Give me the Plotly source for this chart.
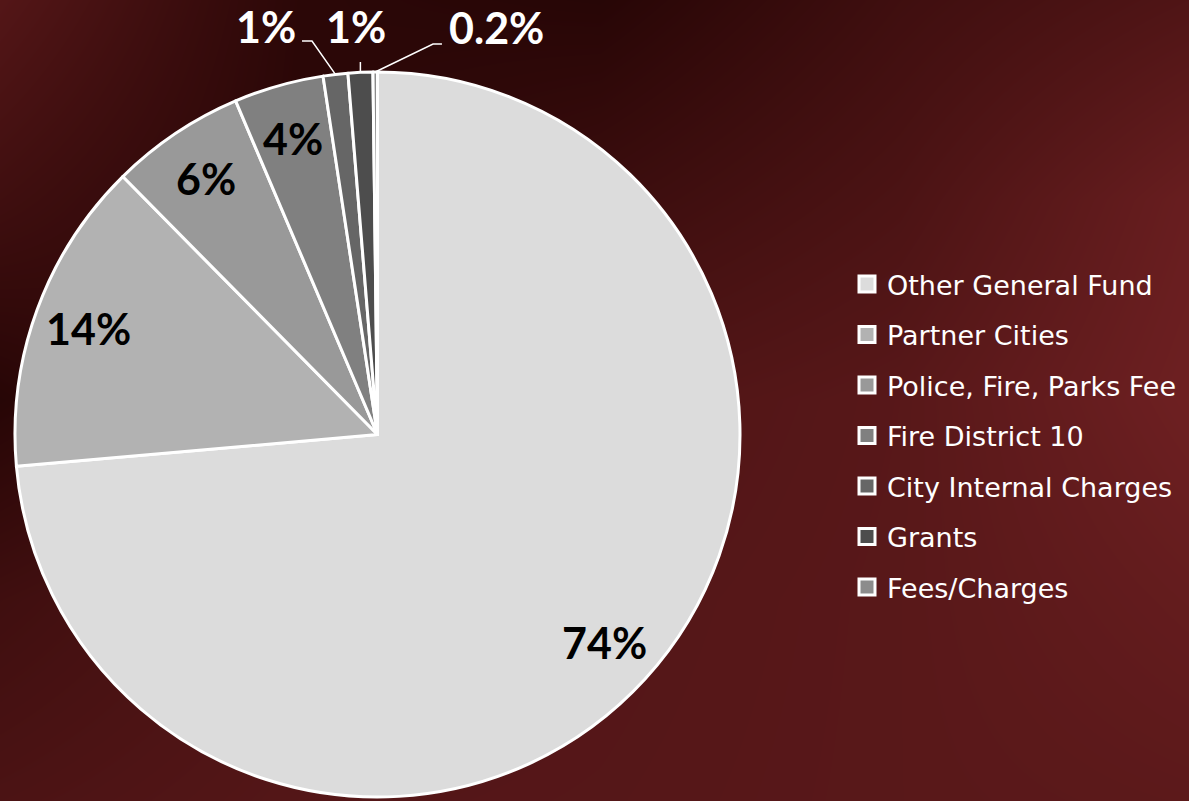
import math
import plotly.graph_objects as go

# ---- data ----
categories = ["Other General Fund", "Partner Cities", "Police, Fire, Parks Fee",
              "Fire District 10", "City Internal Charges", "Grants", "Fees/Charges"]
values = [73.6, 14.0, 6.0, 4.0, 1.1, 1.1, 0.2]
pct_labels = ["74%", "14%", "6%", "4%", "1%", "1%", "0.2%"]
colors = ["#dcdcdc", "#b2b2b2", "#999999", "#808080", "#666666", "#4d4d4d", "#8c8c8c"]

# background gradient brightness grid (decorative)
bg_x = [0, 300, 600, 900, 1189]
bg_y = [0, 200, 400, 600, 801]
bg_z = [
    [0.60, 0.10, 0.05, 0.35, 0.55],
    [0.35, 0.08, 0.30, 0.50, 0.85],
    [0.05, 0.35, 0.55, 0.65, 0.92],
    [0.35, 0.55, 0.60, 0.66, 0.80],
    [0.50, 0.60, 0.62, 0.66, 0.70],
]

W, H = 1189, 801
CX, CY, R = 377.5, 434.5, 362.5

fig = go.Figure()

fig.add_trace(go.Heatmap(
    x=bg_x, y=bg_y, z=bg_z, zsmooth="best", showscale=False, hoverinfo="skip",
    colorscale=[[0, "#230404"], [1, "#742224"]], zmin=0, zmax=1,
    xaxis="x", yaxis="y"))

fig.add_trace(go.Pie(
    labels=categories, values=values, sort=False, direction="clockwise", rotation=0,
    marker=dict(colors=colors, line=dict(color="white", width=3)),
    textinfo="none", showlegend=False, hoverinfo="label+percent",
    domain=dict(x=[(CX - R) / W, (CX + R) / W], y=[1 - (CY + R) / H, 1 - (CY - R) / H])))

for name, col in zip(categories, colors):
    fig.add_trace(go.Scatter(
        x=[None], y=[None], mode="markers", name=name, legendgroup=name,
        marker=dict(symbol="square", size=16, color=col, line=dict(color="white", width=3)),
        xaxis="x", yaxis="y"))

# ---- percentage labels ----
total = sum(values)
ann = []
shapes = []
label_font = dict(family="Lato, 'DejaVu Sans', sans-serif", size=43)
cum = 0.0
mids = []
for v in values:
    a0 = cum / total * 360
    cum += v
    a1 = cum / total * 360
    mids.append((a0 + a1) / 2)


def pt(angle_deg, rad):
    a = math.radians(angle_deg)
    return CX + rad * math.sin(a), CY - rad * math.cos(a)


def to_paper(px, py):
    return px / W, 1 - py / H


# inside labels
for i in range(4):
    px, py = pt(mids[i], 0.85 * R)
    x, y = to_paper(px, py)
    ann.append(dict(x=x, y=y, xref="paper", yref="paper", text="<b>%s</b>" % pct_labels[i],
                    showarrow=False, font=dict(label_font, color="black"),
                    xanchor="center", yanchor="middle"))

# outside labels with leader lines (label pixel positions are layout)
out_pos = {4: (266, 27), 5: (356, 27), 6: (496, 28)}
for i, (lx, ly) in out_pos.items():
    x, y = to_paper(lx, ly)
    ann.append(dict(x=x, y=y, xref="paper", yref="paper", text="<b>%s</b>" % pct_labels[i],
                    showarrow=False, font=dict(label_font, color="white"),
                    xanchor="center", yanchor="middle"))

line_style = dict(color="white", width=1.5)
# City Internal Charges
ex, ey = pt(mids[4], R)
p = [(302, 41), (312, 41), (ex, ey)]
# Grants
gx, gy = pt(mids[5], R)
q = [(gx, 62), (gx, gy)]
# Fees/Charges
fx, fy = pt(mids[6], R)
s = [(442, 44), (433, 44), (fx, fy)]
for pts in (p, q, s):
    path = "M " + " L ".join("%.4f,%.4f" % to_paper(a, b) for a, b in pts)
    shapes.append(dict(type="path", path=path, xref="paper", yref="paper", line=line_style))

fig.update_layout(
    width=W, height=H,
    margin=dict(l=0, r=0, t=0, b=0),
    paper_bgcolor="#3a0808", plot_bgcolor="rgba(0,0,0,0)",
    xaxis=dict(range=[0, W], visible=False, domain=[0, 1], fixedrange=True),
    yaxis=dict(range=[H, 0], visible=False, domain=[0, 1], fixedrange=True),
    legend=dict(x=847 / W, y=1 - 260 / H, xanchor="left", yanchor="top",
                font=dict(family="'DejaVu Sans', sans-serif", size=27, color="white"),
                bgcolor="rgba(0,0,0,0)", traceorder="grouped", tracegroupgap=12.4,
                itemclick=False, itemdoubleclick=False),
    annotations=ann, shapes=shapes,
    showlegend=True,
)

fig.write_html(
    "out.html",
    config={"displayModeBar": False},
    post_script="document.body.style.margin='0';document.body.style.overflow='hidden';"
                "document.body.style.background='#3a0808';",
)
